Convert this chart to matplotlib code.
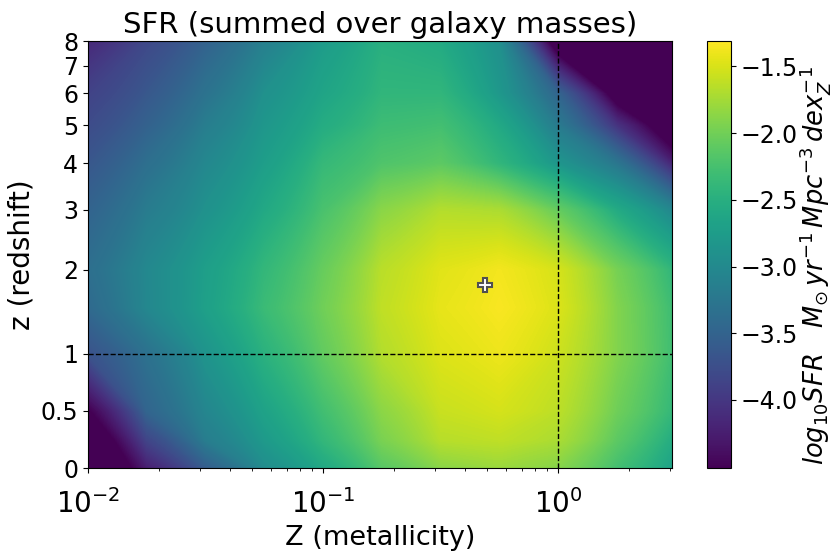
import numpy as np
import matplotlib
matplotlib.use('Agg')
import matplotlib.pyplot as plt
from matplotlib.colors import Normalize
from matplotlib.cm import ScalarMappable
from matplotlib.ticker import NullLocator

# ---- data ----
metallicity = [0.01, 0.0178, 0.0316, 0.0562, 0.1, 0.178, 0.316, 0.562, 1.0, 1.78, 3.16]
redshift = [0, 0.25, 0.5, 1, 1.5, 2, 3, 4, 5, 6, 8]
log_sfr = [
    [-5.10, -4.25, -3.58, -2.96, -2.60, -2.15, -1.88, -1.80, -1.90, -2.28, -2.72],
    [-4.90, -3.85, -3.16, -2.79, -2.40, -1.96, -1.66, -1.62, -1.72, -2.12, -2.58],
    [-4.55, -3.48, -3.04, -2.68, -2.29, -1.87, -1.58, -1.52, -1.64, -2.02, -2.42],
    [-3.70, -3.32, -2.87, -2.48, -2.09, -1.68, -1.48, -1.40, -1.56, -1.92, -2.33],
    [-3.42, -3.02, -2.71, -2.34, -2.01, -1.62, -1.43, -1.34, -1.49, -1.92, -2.35],
    [-3.35, -3.01, -2.73, -2.40, -2.06, -1.65, -1.46, -1.37, -1.52, -1.98, -2.45],
    [-3.50, -3.18, -2.90, -2.60, -2.24, -1.88, -1.68, -1.72, -2.08, -2.58, -3.08],
    [-3.65, -3.35, -3.02, -2.74, -2.38, -2.20, -2.12, -2.42, -2.85, -3.26, -4.28],
    [-3.78, -3.52, -3.16, -2.83, -2.55, -2.32, -2.28, -2.60, -3.20, -4.05, -5.05],
    [-3.88, -3.64, -3.30, -2.91, -2.65, -2.42, -2.42, -2.82, -3.50, -4.80, -7.00],
    [-4.15, -3.82, -3.52, -3.13, -2.77, -2.50, -2.58, -2.93, -4.94, -7.30, -9.50],
]
peak_Z = [0.49]
peak_z = [1.79]
vmin, vmax = -4.51, -1.31
ytick_values = [0, 0.5, 1, 2, 3, 4, 5, 6, 7, 8]
ytick_labels = ['0', '0.5', '1', '2', '3', '4', '5', '6', '7', '8']
cbar_ticks = [-1.5, -2.0, -2.5, -3.0, -3.5, -4.0]


# redshift axis: linear below z=1, log(1+z) above
def fwd(z):
    z = np.asarray(z, dtype=float)
    with np.errstate(all='ignore'):
        hi = 0.267 + 0.487 * np.log((1 + np.maximum(z, 1)) / 2)
    return np.where(z <= 1, 0.267 * z, hi)


def inv(v):
    v = np.asarray(v, dtype=float)
    with np.errstate(all='ignore'):
        hi = 2 * np.exp((np.maximum(v, 0.267) - 0.267) / 0.487) - 1
    return np.where(v <= 0.267, v / 0.267, hi)


fig = plt.figure(figsize=(8.3, 5.53), dpi=100)
ax = fig.add_axes([0.106, 0.1537, 0.7036, 0.772])
cax = fig.add_axes([0.852, 0.1537, 0.029, 0.772])

ax.set_xscale('log')
ax.set_yscale('function', functions=(fwd, inv))

levels = np.linspace(vmin, vmax, 256)
ax.contourf(metallicity, redshift, np.array(log_sfr), levels=levels,
            cmap='viridis', extend='both')

ax.set_xlim(0.01, 3.05)
ax.set_ylim(0, 8)
ax.set_yticks(ytick_values, ytick_labels)
ax.yaxis.set_minor_locator(NullLocator())

ax.axvline(1, color='k', ls='--', lw=1)
ax.axhline(1, color='k', ls='--', lw=1)
ax.plot(peak_Z, peak_z, marker='P', ms=10.5, mfc='white', mec='#505050',
        mew=1.5, ls='none')

ax.tick_params(axis='x', labelsize=20, pad=12)
ax.tick_params(axis='y', labelsize=17)
ax.set_title('SFR (summed over galaxy masses)', fontsize=21)
ax.set_xlabel('Z (metallicity)', fontsize=19.5, labelpad=4)
ax.set_ylabel('z (redshift)', fontsize=20)

sm = ScalarMappable(norm=Normalize(vmin, vmax), cmap='viridis')
cb = fig.colorbar(sm, cax=cax)
cb.set_ticks(cbar_ticks)
cb.ax.tick_params(labelsize=17)
cb.set_label(r'$log_{10}SFR\ \ \ M_{\odot}\,yr^{-1}\,Mpc^{-3}\,dex_{Z}^{-1}$',
             fontsize=18.5)
cb.ax.yaxis.set_label_coords(3.72, 0.475)

fig.savefig('out.png', dpi=100)
